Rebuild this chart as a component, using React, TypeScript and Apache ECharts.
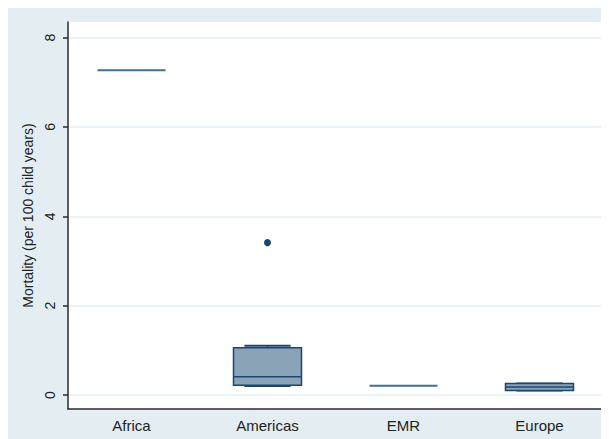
import React, { useEffect, useRef } from "react";
import * as echarts from "echarts";

// Regions on the horizontal axis
const regions = ["Africa", "Americas", "EMR", "Europe"];
// Box summaries per region: lower adjacent, q1, median, q3, upper adjacent
const lowerAdj = [7.27, 0.2, 0.21, 0.1];
const q1 = [7.27, 0.22, 0.21, 0.1];
const median = [7.27, 0.41, 0.21, 0.18];
const q3 = [7.27, 1.06, 0.21, 0.26];
const upperAdj = [7.27, 1.1, 0.21, 0.26];
// Outside values: [region index, mortality]
const outliers: [number, number][] = [[1, 3.41]];
// Y tick values
const yTicks = [0, 2, 4, 6, 8];

const NAVY = "#1a476f";
const BOX_FILL = "#8ba3b7";
const BG = "#e4eef2";
const FONT = "'Liberation Sans', Arial, sans-serif";

export default function App() {
  const ref = useRef<HTMLDivElement>(null);

  useEffect(() => {
    if (!ref.current) return;
    const chart = echarts.init(ref.current, null, { renderer: "svg" });

    const boxData = regions.map((_, i) => [i, lowerAdj[i], q1[i], median[i], q3[i], upperAdj[i]]);

    const renderBox = (params: any, api: any) => {
      const x = api.value(0);
      const lo = api.value(1);
      const b1 = api.value(2);
      const md = api.value(3);
      const b3 = api.value(4);
      const hi = api.value(5);
      const halfBox = 0.25;
      const halfCap = 0.17;
      const pL = api.coord([x - halfBox, b3]);
      const pR = api.coord([x + halfBox, b1]);
      const pMedL = api.coord([x - halfBox, md]);
      const pMedR = api.coord([x + halfBox, md]);
      const capL = api.coord([x - halfCap, hi]);
      const capR = api.coord([x + halfCap, hi]);
      const capLl = api.coord([x - halfCap, lo]);
      const capRl = api.coord([x + halfCap, lo]);
      const cTop = api.coord([x, hi]);
      const cB3 = api.coord([x, b3]);
      const cB1 = api.coord([x, b1]);
      const cBot = api.coord([x, lo]);
      const children: any[] = [];
      const h = pR[1] - pL[1];
      if (Math.abs(h) < 0.5) {
        // all summaries equal: the box collapses to a single line
        children.push({
          type: "line",
          shape: { x1: pL[0], y1: pMedL[1], x2: pR[0], y2: pMedL[1] },
          style: { stroke: "#3d6f99", lineWidth: 2 },
        });
        return { type: "group", children };
      }
      // whiskers
      children.push({
        type: "line",
        shape: { x1: cTop[0], y1: cTop[1], x2: cB3[0], y2: cB3[1] },
        style: { stroke: NAVY, lineWidth: 1.5 },
      });
      children.push({
        type: "line",
        shape: { x1: cB1[0], y1: cB1[1], x2: cBot[0], y2: cBot[1] },
        style: { stroke: NAVY, lineWidth: 1.5 },
      });
      children.push({
        type: "line",
        shape: { x1: capL[0], y1: capL[1], x2: capR[0], y2: capR[1] },
        style: { stroke: NAVY, lineWidth: 2 },
      });
      children.push({
        type: "line",
        shape: { x1: capLl[0], y1: capLl[1], x2: capRl[0], y2: capRl[1] },
        style: { stroke: NAVY, lineWidth: 2 },
      });
      // box
      children.push({
        type: "rect",
        shape: { x: pL[0], y: pL[1], width: pR[0] - pL[0], height: h },
        style: { fill: BOX_FILL, stroke: NAVY, lineWidth: 1.5 },
      });
      // median
      children.push({
        type: "line",
        shape: { x1: pMedL[0], y1: pMedL[1], x2: pMedR[0], y2: pMedR[1] },
        style: { stroke: NAVY, lineWidth: 1.5 },
      });
      return { type: "group", children };
    };

    chart.setOption({
      animation: false,
      backgroundColor: BG,
      grid: {
        left: 60,
        top: 14,
        right: 6,
        bottom: 30,
        show: true,
        backgroundColor: "#ffffff",
        borderWidth: 0,
      },
      xAxis: {
        type: "value",
        min: -0.467,
        max: 3.467,
        splitLine: { show: false },
        axisLine: { show: true, onZero: false, lineStyle: { color: "#2b2b2b", width: 1.5 } },
        axisTick: { show: false },
        axisLabel: {
          customValues: [0, 1, 2, 3],
          formatter: (v: number) => regions[Math.round(v)] ?? "",
          color: "#222",
          fontSize: 15,
          fontFamily: FONT,
          margin: 9,
        },
      },
      yAxis: {
        type: "value",
        min: -0.313,
        max: 8.347,
        name: "Mortality (per 100 child years)",
        nameLocation: "middle",
        nameRotate: 90,
        nameGap: 29,
        nameTextStyle: { color: "#222", fontSize: 14, fontFamily: FONT },
        axisLine: { show: true, onZero: false, lineStyle: { color: "#2b2b2b", width: 1.5 } },
        axisTick: {
          show: true,
          customValues: yTicks,
          length: 5,
          lineStyle: { color: "#2b2b2b", width: 1.5 },
        },
        axisLabel: {
          customValues: yTicks,
          rotate: 90,
          color: "#222",
          fontSize: 14,
          fontFamily: FONT,
          margin: 11,
        },
        splitLine: { show: true, lineStyle: { color: "#e6eff3", width: 1.5 } },
      },
      series: [
        {
          type: "custom",
          renderItem: renderBox,
          data: boxData,
          encode: { x: 0, y: [1, 2, 3, 4, 5] },
        },
        {
          type: "scatter",
          data: outliers,
          symbol: "circle",
          symbolSize: 7,
          itemStyle: { color: NAVY, opacity: 1 },
        },
      ],
    });

    return () => chart.dispose();
  }, []);

  return <div ref={ref} style={{ width: 601, height: 431 }} />;
}
